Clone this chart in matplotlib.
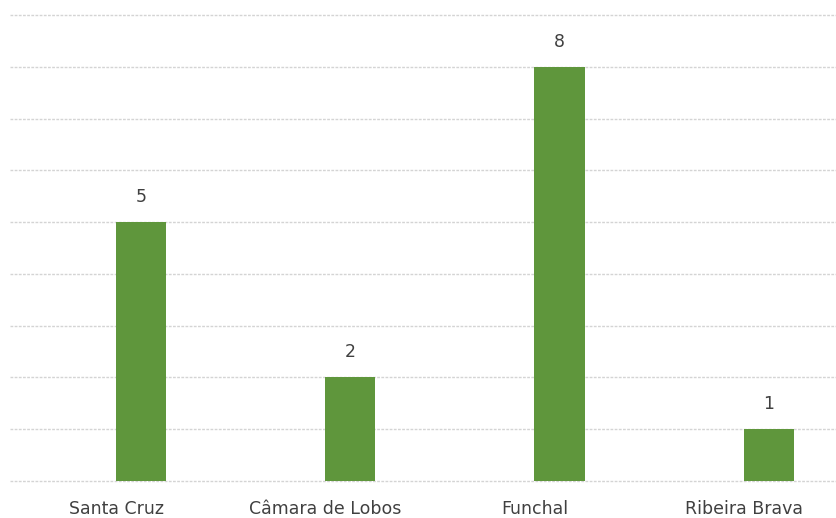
import matplotlib
matplotlib.use("Agg")
import matplotlib.pyplot as plt

categories = ["Santa Cruz", "Câmara de Lobos", "Funchal", "Ribeira Brava"]
values = [5, 2, 8, 1]

W, H = 837, 518
fig = plt.figure(figsize=(W / 100, H / 100), dpi=100)
ax = fig.add_axes([10 / W, 1 - 481 / H, 1 - 10 / W, (481 - 15) / H])

x = list(range(len(categories)))
bw = 0.24
ax.bar(x, values, width=bw, align="edge", color="#5f963c", zorder=3)

ax.set_ylim(0, 9)
ax.set_xlim(-0.507, 3.447)
ax.set_yticks(range(0, 10))
ax.yaxis.grid(True, color="#d4d4d4", linewidth=1.0, linestyle=(0, (2, 1)), zorder=0)
for gl in ax.get_ygridlines():
    gl.set_clip_on(False)
ax.tick_params(axis="y", left=False, labelleft=False)
ax.tick_params(axis="x", bottom=False, pad=10, labelsize=12.5, labelcolor="#404040")
ax.set_xticks(x)
ax.set_xticklabels(categories)
for s in ax.spines.values():
    s.set_visible(False)

for xi, v in zip(x, values):
    ax.annotate(str(v), (xi + bw / 2, v), xytext=(0, 18), textcoords="offset points",
                ha="center", va="center", fontsize=12.5, color="#404040")

fig.savefig("out.png", dpi=100)
